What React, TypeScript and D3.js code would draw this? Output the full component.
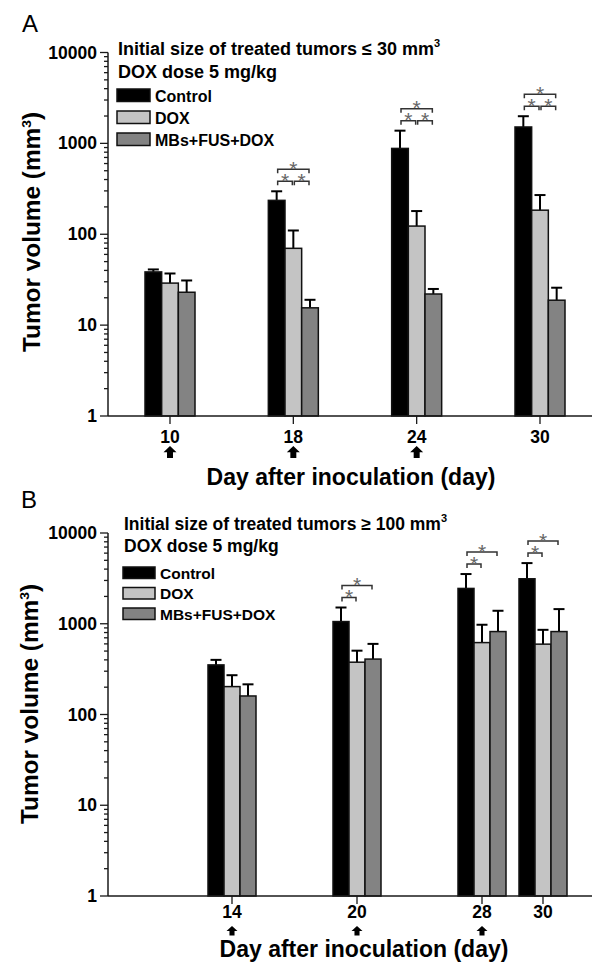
import * as d3 from "d3";

const FONT = "'Liberation Sans', Arial, Helvetica, sans-serif";
const INK = "#1a1a1a";

const seriesNames = ["Control", "DOX", "MBs+FUS+DOX"];
const seriesColors = ["#000000", "#c4c4c4", "#838383"];

// panel A: small tumours (<= 30 mm3)
const daysA = ["10", "18", "24", "30"];
const controlA = [38.5, 236, 880, 1515];
const controlSdA = [2.5, 61, 500, 475];
const doxA = [29, 70, 123, 184];
const doxSdA = [8, 40, 57, 86];
const mbsA = [23, 15.5, 22, 18.8];
const mbsSdA = [8, 3.5, 3, 7];
const treatedA = ["10", "18", "24"];
const sigDaysA = ["18", "24", "30"];
const sigPairsA = [
  [0, 1, 0],
  [1, 2, 0],
  [0, 2, 1],
];

// panel B: large tumours (>= 100 mm3)
const daysB = ["14", "20", "28", "30"];
const controlB = [352, 1057, 2450, 3130];
const controlSdB = [48, 453, 1080, 1530];
const doxB = [203, 377, 620, 596];
const doxSdB = [68, 128, 355, 261];
const mbsB = [160, 408, 820, 820];
const mbsSdB = [55, 192, 570, 630];
const treatedB = ["14", "20", "28"];
const sigDaysB = ["20", "28", "30"];
const sigPairsB = [
  [0, 1, 0],
  [0, 2, 1],
];

const yDomain = [1, 10000];

const Arrow = ({ x, y, w, h }: any) => {
  const hw = w / 2;
  const sw = w * 0.23;
  const hh = h * 0.52;
  return (
    <path
      d={`M${x},${y} L${x + hw},${y + hh} L${x + sw},${y + hh} L${x + sw},${y + h} L${x - sw},${y + h} L${x - sw},${y + hh} L${x - hw},${y + hh} Z`}
      fill="#000"
    />
  );
};

const Panel = (props: any) => {
  const L = props.layout;
  const y = d3.scaleLog().domain(yDomain).range([L.yBottom, L.yTop]);
  const x = props.x;
  const sub = d3
    .scaleBand()
    .domain(seriesNames)
    .range([-L.groupHalf, L.groupHalf])
    .paddingInner(0);
  const bw = sub.bandwidth();

  const yTicks = y.ticks();
  const isMajor = (t: number) => Math.abs(Math.log10(t) - Math.round(Math.log10(t))) < 1e-9;

  return (
    <g fontFamily={FONT}>
      <text x={L.letterX} y={L.letterY} fontSize={24} fill="#000">
        {props.letter}
      </text>

      {/* bars */}
      {props.days.map((d: string, i: number) => (
        <g key={d}>
          {seriesNames.map((s, k) => {
            const v = props.means[k][i];
            const top = v + props.sds[k][i];
            const bx = x(d) + (sub(s) as number);
            const cx = bx + bw / 2;
            return (
              <g key={s}>
                <line x1={cx} x2={cx} y1={y(v)} y2={y(top)} stroke="#000" strokeWidth={2} />
                <line x1={cx - 5.5} x2={cx + 5.5} y1={y(top)} y2={y(top)} stroke="#000" strokeWidth={2} />
                <rect
                  x={bx}
                  y={y(v)}
                  width={bw}
                  height={y(1) - y(v)}
                  fill={seriesColors[k]}
                  stroke="#111"
                  strokeWidth={1.5}
                />
              </g>
            );
          })}
        </g>
      ))}

      {/* significance brackets */}
      {props.sigDays.map((d: string) => {
        const i = props.days.indexOf(d);
        const maxTop = d3.max(seriesNames.map((_, k) => props.means[k][i] + props.sds[k][i])) as number;
        const base = y(maxTop) - 10;
        return (
          <g key={"sig" + d}>
            {props.sigPairs.map((p: number[], j: number) => {
              const x1 = x(d) + (sub(seriesNames[p[0]]) as number) + bw / 2 + 1;
              const x2 = x(d) + (sub(seriesNames[p[1]]) as number) + bw / 2 - 1;
              const by = base - p[2] * 12;
              return (
                <g key={j}>
                  <path
                    d={`M${x1},${by + 4} V${by} H${x2} V${by + 4}`}
                    fill="none"
                    stroke="#333"
                    strokeWidth={1.5}
                  />
                  <text
                    x={(x1 + x2) / 2}
                    y={by + 6.5}
                    textAnchor="middle"
                    fontSize={21}
                    fill="#666"
                  >
                    *
                  </text>
                </g>
              );
            })}
          </g>
        );
      })}

      {/* y axis */}
      <line x1={L.axisX} x2={L.axisX} y1={L.yTop} y2={L.yBottom} stroke={INK} strokeWidth={1.5} />
      {yTicks.map((t) => (
        <line
          key={t}
          x1={L.axisX - (isMajor(t) ? 8 : 4)}
          x2={L.axisX}
          y1={y(t)}
          y2={y(t)}
          stroke={INK}
          strokeWidth={1.3}
        />
      ))}
      {yTicks.filter(isMajor).map((t) => (
        <text
          key={"l" + t}
          x={L.axisX - 11}
          y={y(t) + 6}
          textAnchor="end"
          fontSize={17.5}
          fontWeight="bold"
          fill="#000"
        >
          {t}
        </text>
      ))}
      <text
        transform={`translate(${L.yTitleX},${L.yTitleY}) rotate(-90) scale(1.06,1)`}
        textAnchor="middle"
        fontSize={23}
        fontWeight="bold"
        fill="#000"
      >
        Tumor volume (mm
        <tspan dy={-9} fontSize={13}>
          3
        </tspan>
        <tspan dy={9}>)</tspan>
      </text>

      {/* x axis */}
      <line x1={L.axisX} x2={L.axisRight} y1={L.yBottom} y2={L.yBottom} stroke={INK} strokeWidth={1.5} />
      {props.days.map((d: string) => (
        <g key={"x" + d}>
          <line x1={x(d)} x2={x(d)} y1={L.yBottom} y2={L.yBottom + 8} stroke={INK} strokeWidth={1.3} />
          <text
            x={x(d)}
            y={L.yBottom + L.tickLabelGap}
            textAnchor="middle"
            fontSize={17.5}
            fontWeight="bold"
            fill="#000"
          >
            {d}
          </text>
        </g>
      ))}
      {props.treated.map((d: string) => (
        <Arrow key={"a" + d} x={x(d)} y={L.arrowY} w={L.arrowW} h={L.arrowH} />
      ))}
      <text
        x={L.xTitleX}
        y={L.xTitleY}
        textAnchor="middle"
        fontSize={23}
        fontWeight="bold"
        fill="#000"
      >
        Day after inoculation (day)
      </text>

      {/* legend */}
      <text x={L.legendX + 1} y={L.titleY} fontSize={L.titleFont} fontWeight="bold" fill="#000">
        {`Initial size of treated tumors ${props.sign} ${props.size} mm`}
        <tspan dy={-8} fontSize={11}>
          3
        </tspan>
      </text>
      <text x={L.legendX + 1} y={L.title2Y} fontSize={L.titleFont} fontWeight="bold" fill="#000">
        DOX dose 5 mg/kg
      </text>
      {seriesNames.map((s, k) => (
        <g key={"lg" + s}>
          <rect
            x={L.legendX}
            y={L.legendY + k * L.legendStep}
            width={L.rectW}
            height={L.rectH}
            fill={seriesColors[k]}
            stroke="#111"
            strokeWidth={1.5}
          />
          <text
            x={L.legendX + L.rectW + 5}
            y={L.legendY + k * L.legendStep + L.rectH}
            fontSize={L.legendFont}
            fontWeight="bold"
            fill="#000"
          >
            {s}
          </text>
        </g>
      ))}
    </g>
  );
};

const layoutA = {
  letterX: 22,
  letterY: 32,
  yTop: 52.5,
  yBottom: 416,
  axisX: 108,
  axisRight: 592,
  groupHalf: 25,
  tickLabelGap: 27,
  arrowY: 446,
  arrowW: 13,
  arrowH: 12,
  xTitleX: 351,
  xTitleY: 485,
  yTitleX: 40,
  yTitleY: 232,
  legendX: 117,
  legendY: 89,
  legendStep: 22,
  rectW: 33,
  rectH: 12.5,
  legendFont: 16,
  titleY: 55,
  title2Y: 78,
  titleFont: 18,
};

const layoutB = {
  letterX: 21,
  letterY: 508,
  yTop: 533,
  yBottom: 896,
  axisX: 108,
  axisRight: 592,
  groupHalf: 24,
  tickLabelGap: 22,
  arrowY: 926,
  arrowW: 11,
  arrowH: 9.5,
  xTitleX: 364,
  xTitleY: 957,
  yTitleX: 38,
  yTitleY: 704,
  legendX: 123,
  legendY: 567,
  legendStep: 20.5,
  rectW: 32,
  rectH: 11.5,
  legendFont: 15.5,
  titleY: 530,
  title2Y: 552,
  titleFont: 17.5,
};

export default function App() {
  const xA = d3.scalePoint().domain(daysA).range([170, 540]);
  // panel B days are not evenly spaced on the original axis (30 sits close to 28)
  const xBScale = d3
    .scaleLinear()
    .domain(daysB.map(Number))
    .range([232, 357, 482, 543]);
  const xB = (d: string) => xBScale(+d);

  return (
    <svg
      width={595}
      height={965}
      style={{ position: "absolute", left: 0, top: 0, background: "#fff" }}
    >
      <rect width={595} height={965} fill="#fff" />
      <Panel
        letter="A"
        layout={layoutA}
        x={(d: string) => xA(d) as number}
        days={daysA}
        means={[controlA, doxA, mbsA]}
        sds={[controlSdA, doxSdA, mbsSdA]}
        treated={treatedA}
        sigDays={sigDaysA}
        sigPairs={sigPairsA}
        sign="≤"
        size="30"
      />
      <Panel
        letter="B"
        layout={layoutB}
        x={xB}
        days={daysB}
        means={[controlB, doxB, mbsB]}
        sds={[controlSdB, doxSdB, mbsSdB]}
        treated={treatedB}
        sigDays={sigDaysB}
        sigPairs={sigPairsB}
        sign="≥"
        size="100"
      />
    </svg>
  );
}
